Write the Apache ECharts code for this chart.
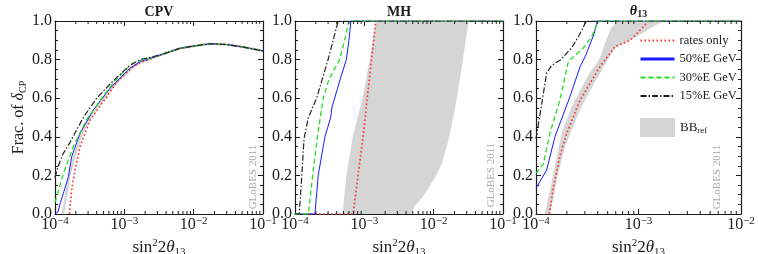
<!DOCTYPE html>
<html><head><meta charset="utf-8">
<script src="https://cdn.jsdelivr.net/npm/echarts@6/dist/echarts.min.js"></script>
<style>html,body{margin:0;padding:0;background:#fff}#c{width:759px;height:254px}</style>
</head><body><div id="c"></div>
<script>
// ---- axis ranges (decades) ----
const decadesCPV = [-4, -3, -2, -1];
const decadesMH = [-4, -3, -2, -1];
const decadesT13 = [-4, -3, -2];
const yTicks = [0, 0.2, 0.4, 0.6, 0.8, 1.0];
const panelTitles = ['CPV', 'MH', '{t|θ}{s|13}'];

// ---- CPV panel ----
const cpvTail = [[3.3e-3,0.824],[6.3e-3,0.858],[1e-2,0.87],[1.7e-2,0.882],[3e-2,0.878],[5e-2,0.866],[1e-1,0.845]];
const cpvRates = [[1.61e-4,0],[1.74e-4,0.124],[1.94e-4,0.228],[2.3e-4,0.349],[3.2e-4,0.487],[5.6e-4,0.608],[8.2e-4,0.694],[1.3e-3,0.76],[1.7e-3,0.785]];
const cpv50 = [[1e-4,0],[1.1e-4,0.01],[1.2e-4,0.06],[1.32e-4,0.107],[1.56e-4,0.193],[1.74e-4,0.297],[2.3e-4,0.418],[3.57e-4,0.539],[6.2e-4,0.651],[1.2e-3,0.755],[1.7e-3,0.79]];
const cpv30 = [[1e-4,0.06],[1.12e-4,0.12],[1.32e-4,0.21],[1.84e-4,0.35],[2.87e-4,0.49],[4.5e-4,0.59],[7.3e-4,0.69],[1.3e-3,0.78],[1.7e-3,0.795]];
const cpv15 = [[1e-4,0.19],[1.12e-4,0.25],[1.3e-4,0.31],[1.64e-4,0.37],[2.56e-4,0.5],[4e-4,0.6],[6.9e-4,0.69],[1.2e-3,0.77],[1.7e-3,0.8]];
const cpvBB = [[1.3e-4,0],[1.45e-4,0.1],[1.62e-4,0.2],[1.9e-4,0.3],[2.45e-4,0.42],[3.4e-4,0.52],[5.8e-4,0.63],[8.2e-4,0.69],[1.3e-3,0.76],[1.7e-3,0.785]];

// ---- MH panel ----
const mhRates = [[1e-4,0],[6.9e-4,0],[8.1e-4,0.2],[9.6e-4,0.4],[1.1e-3,0.6],[1.27e-3,0.8],[1.46e-3,1.0],[1e-1,1.0]];
const mh50 = [[1e-4,0],[1.94e-4,0],[2.16e-4,0.2],[2.7e-4,0.4],[3.27e-4,0.5],[3.4e-4,0.55],[4.5e-4,0.7],[5.5e-4,0.8],[6.0e-4,0.9],[6.4e-4,1.0],[1e-1,1.0]];
const mh30 = [[1e-4,0],[1.56e-4,0],[1.8e-4,0.2],[2.1e-4,0.4],[2.56e-4,0.6],[3.1e-4,0.7],[4.4e-4,0.8],[5.2e-4,0.9],[6.0e-4,1.0],[1e-1,1.0]];
const mh15 = [[1e-4,0],[1.15e-4,0],[1.25e-4,0.19],[1.35e-4,0.39],[1.56e-4,0.5],[2.05e-4,0.6],[3.0e-4,0.8],[4.2e-4,1.0],[1e-1,1.0]];
const mhBBLeftX = [4.85e-4,5.5e-4,6.8e-4,9.4e-4,1.2e-3,1.46e-3];
const mhBBLeftY = [0,0.2,0.4,0.6,0.8,1.0];
const mhBBRightX = [4.77e-3,5.33e-3,7.0e-3,1.03e-2,1.29e-2,1.66e-2,2.16e-2,2.64e-2,3.2e-2];
const mhBBRightY = [0,0.04,0.09,0.185,0.254,0.39,0.6,0.8,1.0];

// ---- theta13 panel ----
const t13Rates = [[1.35e-4,0],[1.48e-4,0.14],[1.71e-4,0.3],[2.0e-4,0.42],[2.69e-4,0.59],[4.2e-4,0.763],[5.9e-4,0.867],[8.3e-4,0.9],[1.07e-3,0.96],[1.25e-3,1.0],[1e-2,1.0]];
const t1350 = [[1e-4,0.133],[1.27e-4,0.228],[1.53e-4,0.4],[2.15e-4,0.61],[2.69e-4,0.763],[3.07e-4,0.824],[3.7e-4,0.936],[3.96e-4,1.0],[1e-2,1.0]];
const t1330 = [[1e-4,0.21],[1.18e-4,0.26],[1.37e-4,0.42],[1.71e-4,0.59],[2.07e-4,0.79],[2.89e-4,0.86],[3.5e-4,0.92],[4.05e-4,1.0],[1e-2,1.0]];
const t1315 = [[1e-4,0.39],[1.09e-4,0.51],[1.27e-4,0.73],[1.42e-4,0.77],[1.75e-4,0.8],[2.25e-4,0.865],[2.6e-4,0.92],[3.1e-4,1.0],[1e-2,1.0]];
const t13BBLeftX = [1.22e-4,1.48e-4,1.78e-4,2.23e-4,3.24e-4,4.2e-4,4.9e-4,5.5e-4,6.35e-4];
const t13BBLeftY = [0,0.21,0.42,0.556,0.72,0.807,0.91,0.97,1.0];
const t13BBRightX = [1.37e-4,1.65e-4,1.92e-4,2.69e-4,3.9e-4,5.9e-4,9.6e-4,1.39e-3,1.75e-3];
const t13BBRightY = [0,0.21,0.35,0.54,0.70,0.86,0.92,0.97,1.0];

const legendNames = ['rates only', '50%E GeV', '30%E GeV', '15%E GeV'];

// ---------------------------------------------------------------
const FONT = "'Liberation Serif', 'DejaVu Serif', serif";
const INK = '#1a1a1a';
const BANDC = '#d5d5d5';
const STY = {
  'rates only': {color:'#ff3030', width:1.7, type:[1.6,2.4]},
  '50%E GeV': {color:'#1a1aff', width:1, type:'solid'},
  '30%E GeV': {color:'#22dd22', width:1.3, type:[5,3]},
  '15%E GeV': {color:'#222222', width:1.2, type:[6,2,1.5,2]}
};
const panels = [
  {dec: decadesCPV, title: panelTitles[0], left: 55, width: 208},
  {dec: decadesMH, title: panelTitles[1], left: 295, width: 208},
  {dec: decadesT13, title: panelTitles[2], left: 536, width: 205}
];
const GTOP = 21, GH = 193;

const xAxes = [], yAxes = [], grids = [];
panels.forEach((p, g) => {
  grids.push({left: p.left, top: GTOP, width: p.width, height: GH, outerBoundsMode: 'none', containLabel: false});
  const min = Math.pow(10, p.dec[0]), max = Math.pow(10, p.dec[p.dec.length-1]);
  ['bottom','top'].forEach(pos => {
    xAxes.push({
      type: 'log', logBase: 10, gridIndex: g, position: pos, min, max, splitNumber: p.dec.length-1,
      axisLine: {show: true, onZero: false, lineStyle: {color: INK, width: 1.2}},
      axisTick: {show: true, inside: true, length: 5, lineStyle: {color: INK, width: 1}},
      splitLine: {show: false},
      axisLabel: pos === 'bottom' ? {
        show: true, margin: 2,
        formatter: v => '{b|10}{s|−' + (-Math.round(Math.log10(v))) + '}',
        rich: {
          b: {fontSize: 16, fontFamily: FONT, color: INK, lineHeight: 17},
          s: {fontSize: 11, fontFamily: FONT, color: INK, lineHeight: 9, verticalAlign: 'top'}
        }
      } : {show: false},
      name: pos === 'bottom' ? '{a|sin}{sup|2}{a|2}{th|θ}{sub|13}' : p.title,
      nameLocation: 'middle',
      nameGap: pos === 'bottom' ? 20 : 2,
      nameTextStyle: pos === 'bottom' ? {
        rich: {
          a: {fontSize: 17, fontFamily: FONT, color: INK, lineHeight: 20},
          th: {fontSize: 17, fontFamily: FONT, color: INK, lineHeight: 20, fontStyle: 'italic'},
          sup: {fontSize: 11, fontFamily: FONT, color: INK, lineHeight: 11, verticalAlign: 'top'},
          sub: {fontSize: 11, fontFamily: FONT, color: INK, lineHeight: 11, verticalAlign: 'bottom'}
        }
      } : {
        fontSize: 14, fontWeight: 'bold', fontFamily: FONT, color: INK,
        rich: {
          t: {fontSize: 14, fontWeight: 'bold', fontStyle: 'italic', fontFamily: FONT, color: INK, lineHeight: 16},
          s: {fontSize: 10, fontWeight: 'bold', fontFamily: FONT, color: INK, lineHeight: 9, verticalAlign: 'bottom'}
        }
      }
    });
  });
  ['left','right'].forEach(pos => {
    const ax = {
      type: 'value', gridIndex: g, position: pos, min: yTicks[0], max: yTicks[yTicks.length-1], interval: 0.2,
      axisLine: {show: true, lineStyle: {color: INK, width: 1.2}},
      axisTick: {show: true, inside: true, length: 5, lineStyle: {color: INK, width: 1}},
      minorTick: {show: true, splitNumber: 4, length: 3, lineStyle: {color: INK, width: 1}},
      splitLine: {show: false},
      axisLabel: pos === 'left' ? {show: true, margin: 3, formatter: v => v.toFixed(1), fontSize: 16, fontFamily: FONT, color: INK} : {show: false}
    };
    if (pos === 'left' && g === 0) {
      ax.name = '{a|Frac. of }{d|δ}{sub|CP}';
      ax.nameLocation = 'middle'; ax.nameRotate = 90; ax.nameGap = 27;
      ax.nameTextStyle = {rich: {
        a: {fontSize: 16, fontFamily: FONT, color: INK, lineHeight: 18},
        d: {fontSize: 16, fontFamily: FONT, color: INK, lineHeight: 18, fontStyle: 'italic'},
        sub: {fontSize: 10, fontFamily: FONT, color: INK, lineHeight: 10, verticalAlign: 'bottom'}
      }};
    }
    yAxes.push(ax);
  });
});

function lineSeries(name, data, g) {
  const s = STY[name];
  return {type: 'line', name, data, xAxisIndex: 2*g, yAxisIndex: 2*g, symbol: 'none', showSymbol: false,
    silent: true, z: 3, itemStyle: {color: s.color},
    lineStyle: {color: s.color, width: s.width, type: s.type}};
}
function bandSeries(g, lx, ly, rx, ry) {
  return {type: 'custom', name: 'BB_ref', xAxisIndex: 2*g, yAxisIndex: 2*g, z: 1, silent: true,
    itemStyle: {color: BANDC},
    data: [[lx[0], ly[0]]],
    renderItem: (params, api) => {
      const pts = [];
      for (let i = 0; i < lx.length; i++) pts.push(api.coord([lx[i], ly[i]]));
      for (let i = rx.length - 1; i >= 0; i--) pts.push(api.coord([rx[i], ry[i]]));
      return {type: 'polygon', shape: {points: pts}, style: {fill: BANDC}};
    }};
}
function minorTickSeries(g, dec) {
  const vals = [];
  for (let i = 0; i < dec.length - 1; i++) for (let m = 2; m <= 9; m++) vals.push([m * Math.pow(10, dec[i]), 0.5]);
  return {type: 'custom', xAxisIndex: 2*g, yAxisIndex: 2*g, z: 5,
    data: vals,
    renderItem: (params, api) => {
      const b = api.coord([api.value(0), 0]);
      const t = api.coord([api.value(0), 1]);
      return {type: 'group', children: [
        {type: 'line', shape: {x1: b[0], y1: b[1], x2: b[0], y2: b[1] - 3}, style: {stroke: INK, lineWidth: 1}},
        {type: 'line', shape: {x1: t[0], y1: t[1], x2: t[0], y2: t[1] + 3}, style: {stroke: INK, lineWidth: 1}}
      ]};
    }};
}

const series = [
  bandSeries(1, mhBBLeftX, mhBBLeftY, mhBBRightX, mhBBRightY),
  bandSeries(2, t13BBLeftX, t13BBLeftY, t13BBRightX, t13BBRightY),
  {type: 'line', name: 'BB_ref', data: cpvBB.concat(cpvTail), xAxisIndex: 0, yAxisIndex: 0, symbol: 'none', silent: true, z: 1,
    itemStyle: {color: BANDC}, lineStyle: {color: BANDC, width: 2.5}},
  lineSeries('rates only', cpvRates.concat(cpvTail), 0),
  lineSeries('50%E GeV', cpv50.concat(cpvTail), 0),
  lineSeries('30%E GeV', cpv30.concat(cpvTail), 0),
  lineSeries('15%E GeV', cpv15.concat(cpvTail), 0),
  lineSeries('rates only', mhRates, 1),
  lineSeries('50%E GeV', mh50, 1),
  lineSeries('30%E GeV', mh30, 1),
  lineSeries('15%E GeV', mh15, 1),
  lineSeries('rates only', t13Rates, 2),
  lineSeries('50%E GeV', t1350, 2),
  lineSeries('30%E GeV', t1330, 2),
  lineSeries('15%E GeV', t1315, 2),
  minorTickSeries(0, decadesCPV),
  minorTickSeries(1, decadesMH),
  minorTickSeries(2, decadesT13)
];

const watermark = (x, y) => ({type: 'text', x, y, rotation: Math.PI / 2, silent: true,
  style: {text: 'GLoBES 2011', fill: '#a8a8a8', font: '11px ' + FONT, align: 'center', verticalAlign: 'middle'}});

const chart = echarts.init(document.getElementById('c'), null, {renderer: 'canvas'});
chart.setOption({
  animation: false,
  backgroundColor: '#fff',
  grid: grids,
  xAxis: xAxes,
  yAxis: yAxes,
  legend: [
    {orient: 'vertical', left: 639, top: 34, padding: 0, itemWidth: 34, itemHeight: 14, itemGap: 5.5,
      selectedMode: false, itemStyle: {opacity: 0},
      data: legendNames.map(n => n === '50%E GeV' ? {name: n, lineStyle: {width: 3}} : {name: n}),
      textStyle: {fontSize: 12.5, fontFamily: FONT, color: INK}},
    {orient: 'vertical', left: 640, top: 118, padding: 0, itemWidth: 35, itemHeight: 19,
      selectedMode: false,
      data: [{name: 'BB_ref', icon: 'rect'}],
      formatter: () => '{a|BB}{s|ref}',
      textStyle: {rich: {
        a: {fontSize: 13, fontFamily: FONT, color: INK, lineHeight: 16},
        s: {fontSize: 9, fontFamily: FONT, color: INK, lineHeight: 9, verticalAlign: 'bottom'}
      }}}
  ],
  graphic: [watermark(253, 177), watermark(491, 175), watermark(717, 177)],
  series
});
</script>
</body></html>
